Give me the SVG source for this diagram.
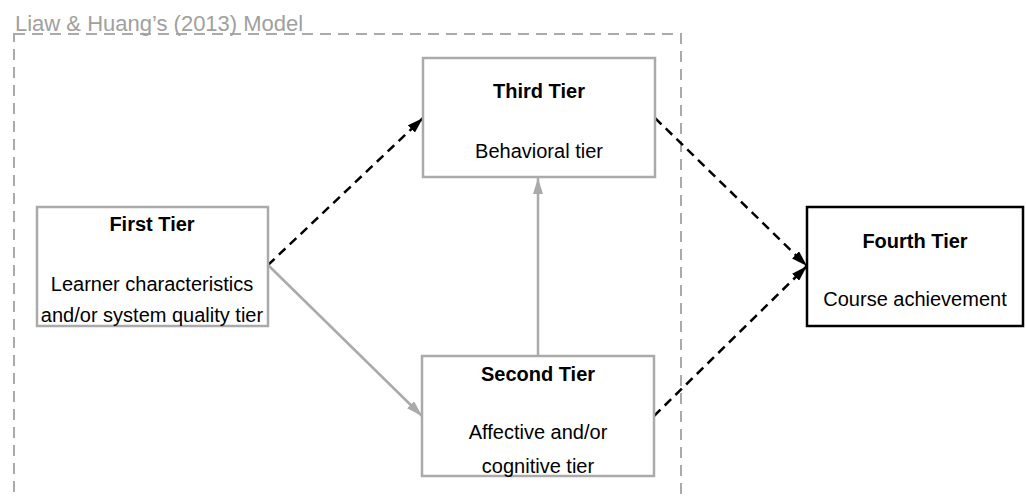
<svg xmlns="http://www.w3.org/2000/svg" width="1026" height="497" viewBox="0 0 1026 497">
  <style>
    .box { fill: #ffffff; stroke: #aaaaaa; stroke-width: 2.5; }
    .box-dark { fill: #ffffff; stroke: #000000; stroke-width: 2.5; }
    .title { font-family: "Liberation Sans", Arial, sans-serif; font-size: 20px; font-weight: bold; fill: #000; text-anchor: middle; }
    .body { font-family: "Liberation Sans", Arial, sans-serif; font-size: 20px; fill: #000; text-anchor: middle; }
    .frame { fill: none; stroke: #aaaaaa; stroke-width: 2; stroke-dasharray: 11 7; }
    .frame-label { font-family: "Liberation Sans", Arial, sans-serif; font-size: 22px; fill: #a0a0a0; }
    .dash { fill: none; stroke: #000; stroke-width: 2.5; stroke-dasharray: 9 6; }
    .solid { fill: none; stroke: #aaaaaa; stroke-width: 2.5; }
  </style>
  <defs>
    <marker id="head-black" viewBox="0 0 16 10" refX="16" refY="5" markerWidth="16" markerHeight="10" markerUnits="userSpaceOnUse" orient="auto">
      <path d="M0,0 L16,5 L0,10 Z" fill="#000"/>
    </marker>
    <marker id="head-gray" viewBox="0 0 16 10" refX="16" refY="5" markerWidth="16" markerHeight="10" markerUnits="userSpaceOnUse" orient="auto">
      <path d="M0,0 L16,5 L0,10 Z" fill="#aaaaaa"/>
    </marker>
  </defs>

  <!-- Model frame -->
  <g id="model-frame">
    <rect class="frame" x="14" y="34" width="667" height="480"/>
    <text class="frame-label" x="15" y="31">Liaw &amp; Huang’s (2013) Model</text>
  </g>

  <!-- Connectors -->
  <g id="connectors">
    <line class="dash" x1="268" y1="265" x2="423" y2="118" marker-end="url(#head-black)"/>
    <line class="solid" x1="268" y1="265" x2="422" y2="416" marker-end="url(#head-gray)"/>
    <line class="solid" x1="538" y1="356" x2="538" y2="178" marker-end="url(#head-gray)"/>
    <line class="dash" x1="655" y1="118" x2="807" y2="266" marker-end="url(#head-black)"/>
    <line class="dash" x1="654" y1="416" x2="807" y2="266" marker-end="url(#head-black)"/>
  </g>

  <!-- First tier -->
  <g id="first-tier">
    <rect class="box" x="37" y="207" width="231" height="119"/>
    <text class="title" x="152" y="231">First Tier</text>
    <text class="body" x="152" y="291">Learner characteristics</text>
    <text class="body" x="152" y="322">and/or system quality tier</text>
  </g>

  <!-- Third tier -->
  <g id="third-tier">
    <rect class="box" x="423" y="58" width="232" height="119"/>
    <text class="title" x="539" y="98">Third Tier</text>
    <text class="body" x="539" y="158">Behavioral tier</text>
  </g>

  <!-- Second tier -->
  <g id="second-tier">
    <rect class="box" x="422" y="356" width="232" height="120"/>
    <text class="title" x="538" y="381">Second Tier</text>
    <text class="body" x="538" y="439">Affective and/or</text>
    <text class="body" x="538" y="473">cognitive tier</text>
  </g>

  <!-- Fourth tier -->
  <g id="fourth-tier">
    <rect class="box-dark" x="807" y="207" width="216" height="119"/>
    <text class="title" x="915" y="248">Fourth Tier</text>
    <text class="body" x="915" y="306">Course achievement</text>
  </g>
</svg>
